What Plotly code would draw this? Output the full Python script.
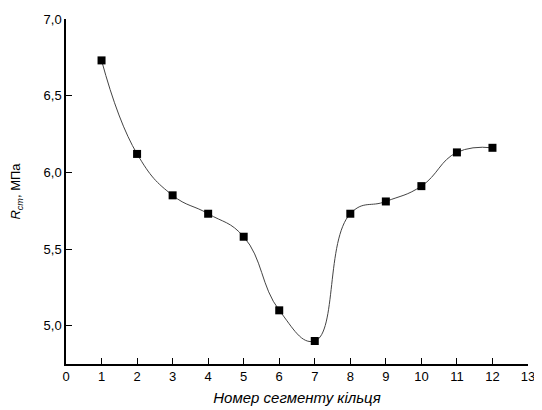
import plotly.graph_objects as go

segments = [1, 2, 3, 4, 5, 6, 7, 8, 9, 10, 11, 12]
r_values = [6.73, 6.12, 5.85, 5.73, 5.58, 5.10, 4.90, 5.73, 5.81, 5.91, 6.13, 6.16]

x_ticks = list(range(0, 14))
y_ticks = [5.0, 5.5, 6.0, 6.5, 7.0]

fig = go.Figure()
fig.add_trace(go.Scatter(
    x=segments, y=r_values, mode="lines+markers",
    line=dict(shape="spline", smoothing=1.3, color="#444444", width=1),
    marker=dict(symbol="square", size=8, color="black"),
    showlegend=False,
))

family = "Liberation Sans, Arial, sans-serif"
tick_font = dict(family=family, size=13, color="black")
fig.update_layout(
    width=534, height=402,
    margin=dict(l=58, r=14, t=11, b=46, autoexpand=False),
    paper_bgcolor="white", plot_bgcolor="white",
    separators=", ",
    font=tick_font,
    xaxis=dict(
        range=[0, 13], tickvals=x_ticks, ticks="inside", ticklen=6, tickwidth=1,
        tickcolor="black", showline=True, linecolor="black", linewidth=1.5,
        showgrid=False, zeroline=False, mirror=False, tickfont=tick_font,
        automargin=False,
        title=dict(text="<i>Номер сегменту кільця</i>", standoff=9,
                   font=dict(family=family, size=15, color="black")),
    ),
    yaxis=dict(
        range=[4.75, 7.0], tickvals=y_ticks, tickformat=".1f", ticks="inside",
        ticklen=6, tickwidth=1, tickcolor="black", showline=True, linecolor="black",
        linewidth=1.5, showgrid=False, zeroline=False, mirror=False, tickfont=tick_font,
        automargin=False,
        title=dict(text="<i>R</i><sub><i>cm</i></sub>, МПа", standoff=29,
                   font=dict(family=family, size=13, color="black")),
    ),
)

fig.write_html("out.html")
